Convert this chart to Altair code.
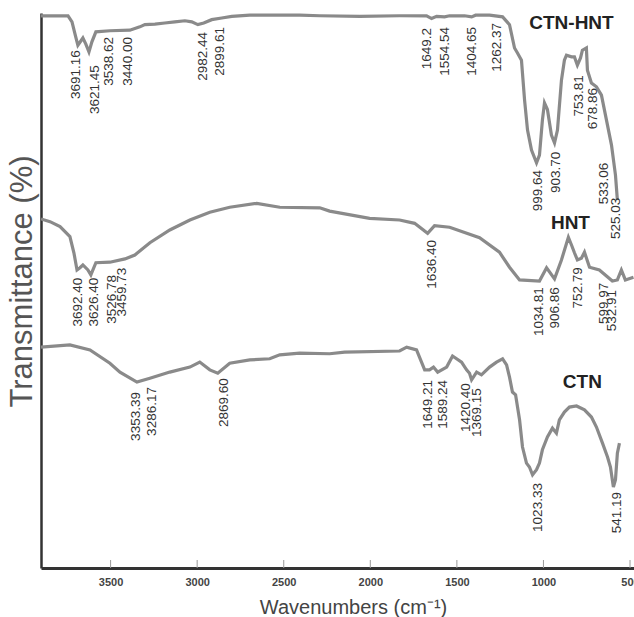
import altair as alt
import pandas as pd

# ---------------- data ----------------
# CTN-HNT spectrum (wavenumber cm-1, relative transmittance)
ctnhnt_wn = [3902, 3746, 3723, 3700, 3689, 3671, 3660, 3643, 3625, 3608, 3585, 3504, 3389, 3331, 3302,
             3244, 3187, 3129, 3071, 3031, 2996, 2962, 2916, 2858, 2800, 2696, 2408, 2292, 2061, 1831,
             1675, 1646, 1617, 1571, 1542, 1456, 1415, 1392, 1311, 1236, 1196, 1167, 1150, 1127, 1109,
             1092, 1069, 1040, 1023, 1006, 994, 977, 954, 936, 919, 896, 879, 867, 838, 821, 804, 786,
             775, 752, 746, 723, 694, 665, 636, 607, 584, 573]
ctnhnt_t = [99.5, 99.5, 98.4, 95.5, 94.2, 95.0, 95.5, 94.4, 93.0, 94.8, 96.6, 96.8, 96.9, 97.5, 97.9,
            98.0, 98.2, 98.4, 98.6, 98.4, 97.9, 98.2, 98.8, 99.1, 99.4, 99.6, 99.6, 99.5, 99.4, 99.5,
            99.5, 99.0, 99.4, 99.3, 99.5, 99.5, 99.3, 99.6, 99.6, 99.3, 97.9, 93.7, 92.8, 91.5, 84.3,
            78.9, 75.3, 73.0, 74.4, 80.7, 83.8, 82.6, 78.0, 76.6, 78.9, 87.9, 91.5, 92.4, 92.1, 92.1,
            90.6, 91.9, 93.3, 93.7, 89.7, 87.4, 86.7, 85.2, 80.7, 76.2, 70.8, 66.3]

# HNT spectrum
hnt_wn = [3902, 3850, 3792, 3735, 3712, 3694, 3677, 3660, 3631, 3614, 3585, 3504, 3417, 3360, 3273,
          3158, 3042, 2927, 2812, 2656, 2523, 2292, 2235, 2004, 1831, 1744, 1669, 1629, 1542, 1369,
          1254, 1196, 1138, 1023, 982, 936, 896, 856, 838, 821, 804, 781, 763, 734, 677, 602, 573,
          550, 527, 480]
hnt_t = [62.9, 62.4, 61.5, 59.7, 56.8, 53.7, 54.1, 54.6, 53.7, 52.8, 55.0, 55.1, 55.7, 56.4, 58.6,
         60.9, 62.7, 64.1, 65.0, 65.7, 65.0, 64.9, 64.3, 63.0, 62.7, 62.1, 60.3, 61.7, 61.4, 59.5,
         56.9, 54.2, 51.9, 51.7, 54.1, 52.1, 55.5, 59.6, 58.2, 56.8, 55.5, 55.8, 56.9, 54.2, 53.7,
         51.7, 51.9, 53.7, 51.9, 52.4]

# CTN spectrum
ctn_wn = [3902, 3735, 3619, 3504, 3446, 3348, 3273, 3158, 3042, 2985, 2927, 2881, 2812, 2696, 2581,
          2523, 2408, 2235, 2148, 1831, 1790, 1733, 1686, 1658, 1635, 1611, 1559, 1525, 1473, 1444,
          1427, 1415, 1386, 1358, 1311, 1271, 1236, 1213, 1196, 1179, 1161, 1138, 1121, 1098, 1081,
          1063, 1040, 1023, 1006, 977, 948, 925, 908, 879, 850, 809, 763, 723, 694, 659, 630, 613,
          596, 584, 573, 561]
ctn_t = [39.8, 40.2, 39.3, 36.9, 35.3, 33.5, 34.2, 35.3, 36.2, 37.1, 35.7, 35.1, 36.9, 37.5, 37.7,
         38.4, 38.7, 38.6, 38.9, 39.1, 39.8, 39.3, 35.7, 35.7, 36.2, 35.3, 36.2, 38.2, 37.1, 35.7,
         35.1, 33.9, 35.3, 34.8, 36.2, 37.1, 37.7, 36.6, 34.4, 31.7, 31.2, 26.7, 21.8, 18.9, 18.2,
         16.8, 17.7, 18.9, 21.3, 23.6, 25.2, 24.3, 26.7, 28.1, 29.0, 29.2, 28.5, 27.2, 25.4, 22.5,
         20.0, 18.2, 14.6, 15.9, 20.7, 22.5]

# Peak labels: text, anchor wavenumber, anchor transmittance (top end of the rotated label)
peak_text = ["3691.16", "3621.45", "3538.62", "3440.00", "2982.44", "2899.61", "1649.2", "1554.54",
             "1404.65", "1262.37", "999.64", "903.70", "753.81", "678.86", "533.06", "525.03",
             "3692.40", "3626.40", "3526.78", "3459.73", "1636.40", "1034.81", "906.86", "752.79",
             "599.97", "532.91",
             "3353.39", "3286.17", "2869.60", "1649.21", "1589.24", "1420.40", "1369.15", "1023.33",
             "541.19"]
peak_wn = [3700, 3591, 3510, 3400, 2967, 2869, 1675, 1571, 1415, 1271, 1034, 925, 792, 711, 648, 579,
           3689, 3596, 3492, 3435, 1646, 1023, 936, 798, 648, 602,
           3354, 3262, 2846, 1669, 1583, 1450, 1386, 1034, 573]
peak_t = [93.3, 90.6, 95.7, 95.7, 96.6, 97.5, 97.3, 97.5, 97.5, 98.2, 71.7, 75.0, 88.8, 86.5, 73.0, 66.7,
          52.3, 52.3, 52.8, 54.1, 59.1, 50.6, 50.6, 54.2, 51.4, 50.1,
          31.7, 32.6, 34.2, 33.9, 33.9, 33.3, 32.4, 15.3, 13.7]

# Series names
series_names = ["CTN-HNT", "HNT", "CTN"]
name_wn = [838, 844, 775]
name_t = [98.2, 62.2, 33.5]

tick_vals = [3500, 3000, 2500, 2000, 1500, 1000, 500]

# ---------------- chart ----------------
W, H = 593, 555
FONT = "Liberation Sans"

lines_df = pd.concat([
    pd.DataFrame({"wn": ctnhnt_wn, "t": ctnhnt_t, "series": "CTN-HNT"}),
    pd.DataFrame({"wn": hnt_wn, "t": hnt_t, "series": "HNT"}),
    pd.DataFrame({"wn": ctn_wn, "t": ctn_t, "series": "CTN"}),
], ignore_index=True)
peaks_df = pd.DataFrame({"wn": peak_wn, "t": peak_t, "label": peak_text})
names_df = pd.DataFrame({"wn": name_wn, "t": name_t, "name": series_names})
ticks_df = pd.DataFrame({"wn": tick_vals})

x_scale = alt.Scale(domain=[477, 3902], reverse=True, nice=False, zero=False)
y_scale = alt.Scale(domain=[0, 100], nice=False, zero=False)

x_axis = alt.Axis(
    title="Wavenumbers (cm⁻¹)", values=tick_vals, format="d", ticks=False, grid=False,
    domainColor="#333333", domainWidth=3,
    labelFont=FONT, labelFontWeight="bold", labelFontSize=11, labelColor="#444444",
    labelPadding=8, labelFlush=False, labelOverlap=False,
    titleFont=FONT, titleFontSize=20, titleFontWeight="normal", titleColor="#444444",
    titleX=312, titleY=39, titleAlign="center", titleBaseline="middle")
y_axis = alt.Axis(
    title="Transmittance (%)", labels=False, ticks=False, grid=False,
    domainColor="#333333", domainWidth=2.5,
    titleFont=FONT, titleFontSize=31, titleFontWeight="normal", titleColor="#555555",
    titleAngle=270, titleX=-19, titleY=268, titleAlign="center", titleBaseline="middle")

X = alt.X("wn:Q", scale=x_scale, axis=x_axis, title="Wavenumbers (cm⁻¹)")
Y = alt.Y("t:Q", scale=y_scale, axis=y_axis, title="Transmittance (%)")

lines = alt.Chart(lines_df).mark_line(color="#8a8a8a", strokeWidth=3.2, clip=True).encode(
    x=X, y=Y, detail="series:N",
)

ticks = alt.Chart(ticks_df).mark_rule(color="#9a9a9a", strokeWidth=1).encode(
    x=X,
    y=alt.value(H - 8),
    y2=alt.value(H),
)

peaks = alt.Chart(peaks_df).mark_text(
    angle=270, align="right", baseline="middle", font=FONT, fontSize=13.5, color="#333333"
).encode(x=X, y=Y, text="label:N")

names = alt.Chart(names_df).mark_text(
    align="center", baseline="middle", font=FONT, fontSize=19, fontWeight="bold", color="#222222"
).encode(x=X, y=Y, text="name:N")

chart = alt.layer(lines, ticks, peaks, names).properties(
    width=W, height=H,
    autosize=alt.AutoSizeParams(type="none"),
    padding={"left": 41, "top": 13, "right": 0, "bottom": 49},
    background="white",
).configure_view(stroke=None)

chart.save("out.html", embed_options={"renderer": "svg", "actions": False})
